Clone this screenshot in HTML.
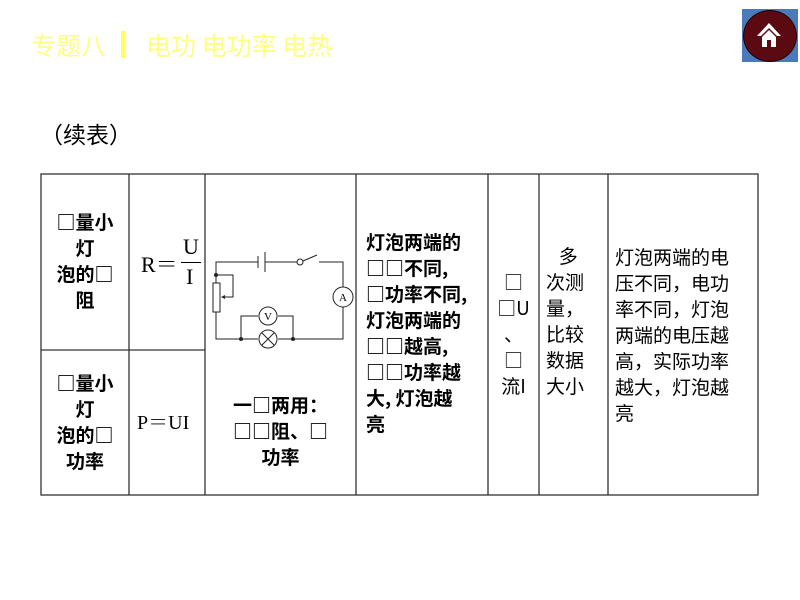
<!DOCTYPE html>
<html><head><meta charset="utf-8"><style>
body{margin:0;width:800px;height:600px;background:#fff;position:relative;overflow:hidden;font-family:"Noto Sans CJK SC","Liberation Sans",sans-serif}
.a{position:absolute;white-space:nowrap}
.b{font-weight:bold;font-size:19px;line-height:26px;color:#000;font-family:"Noto Sans CJK SC",sans-serif}
.n{font-size:19px;line-height:26px;color:#000;font-family:"Liberation Serif","Noto Serif CJK SC",serif}
.c{text-align:center}
</style></head><body>
<div class="a" style="left:31px;top:29px;font-size:25px;color:#ffff80;line-height:32px;font-family:'Noto Sans CJK SC',sans-serif">专题八</div>
<div class="a" style="left:121px;top:31px;width:4px;height:27px;background:#ffff60"></div>
<div class="a" style="left:146px;top:29px;font-size:25px;color:#ffff80;line-height:32px;font-family:'Noto Sans CJK SC',sans-serif">电功 电功率 电热</div>
<div class="a" style="left:742px;top:9px;width:56px;height:53px;background:#4a7ab8"></div>
<div class="a" style="left:743px;top:10px;width:52px;height:50px;border-radius:50%;background:#5a0a10;border:1px solid #200"></div>
<svg class="a" style="left:754px;top:20px" width="30" height="30"><path d="M15 3 L27 16 L23 16 L15 8 L7 16 L3 16Z" fill="#fff"/><path d="M8 17 L15 10 L22 17 L22 27 L8 27Z" fill="#fff"/><rect x="13" y="20" width="4" height="7" fill="#5a0a10"/></svg>
<div class="a" style="left:40px;top:118px;font-size:23px;line-height:30px">（续表）</div>

<svg class="a" style="left:0;top:0" width="800" height="600">
<g stroke="#333" stroke-width="1.3" fill="none">
<rect x="41" y="174" width="717" height="321"/>
<line x1="129" y1="174" x2="129" y2="495"/>
<line x1="205" y1="174" x2="205" y2="495"/>
<line x1="356" y1="174" x2="356" y2="495"/>
<line x1="488" y1="174" x2="488" y2="495"/>
<line x1="539" y1="174" x2="539" y2="495"/>
<line x1="608" y1="174" x2="608" y2="495"/>
<line x1="41" y1="350" x2="205" y2="350"/>
</g>
<g stroke="#222" stroke-width="1" fill="none">
<polyline points="258,262 216,262 216,283"/>
<line x1="258" y1="256" x2="258" y2="268"/>
<line x1="265" y1="252" x2="265" y2="272"/>
<line x1="265" y1="262" x2="297" y2="262"/>
<circle cx="300" cy="262" r="3" fill="#fff"/>
<line x1="303" y1="261" x2="317" y2="255"/>
<polyline points="319,262 343,262 343,287"/>
<polyline points="343,307 343,339 278,339"/>
<polyline points="258,339 216,339 216,312"/>
<rect x="213" y="283" width="7" height="29" fill="#fff"/>
<polyline points="216,275 233,275 233,297 222,297"/>
<circle cx="343" cy="297" r="10"/>
<polyline points="241,339 241,316 258,316"/>
<polyline points="278,316 293,316 293,339"/>
<circle cx="268" cy="316" r="9"/>
<circle cx="268" cy="339" r="9"/>
<line x1="262" y1="333" x2="274" y2="345"/><line x1="274" y1="333" x2="262" y2="345"/>
</g>
<polygon points="221,297 225,295 225,299" fill="#222"/>
<circle cx="216" cy="275" r="2" fill="#222"/><circle cx="241" cy="339" r="2" fill="#222"/><circle cx="293" cy="339" r="2" fill="#222"/>
<text x="343" y="301" font-size="11" text-anchor="middle" font-family="Liberation Serif">A</text>
<text x="268" y="320" font-size="11" text-anchor="middle" font-family="Liberation Serif">V</text>
</svg>
<div class="a" style="left:181px;top:262px;width:20px;height:1px;background:#000"></div>

<div class="a b c" style="left:41px;top:209px;width:88px">□量小<br>灯<br>泡的□<br>阻</div>
<div class="a b c" style="left:41px;top:370px;width:88px">□量小<br>灯<br>泡的□<br>功率</div>
<div class="a n" style="left:141px;top:252px;font-size:22px">R＝</div>
<div class="a n" style="left:183px;top:234px;font-size:22px">U</div>
<div class="a n" style="left:186px;top:264px;font-size:22px">I</div>
<div class="a n" style="left:137px;top:410px;font-size:20px">P＝UI</div>
<div class="a b c" style="left:205px;top:392px;width:151px">一□两用：<br>□□阻、□<br>功率</div>
<div class="a b" style="left:366px;top:229px">灯泡两端的<br>□□不同,<br>□功率不同,<br>灯泡两端的<br>□□越高,<br>□□功率越<br>大, 灯泡越<br>亮</div>
<div class="a b c" style="left:488px;top:269px;width:51px;font-weight:normal">□<br>□U<br>、<br>□<br>流I</div>
<div class="a n" style="left:546px;top:243px;font-family:'Noto Sans CJK SC',sans-serif">&nbsp;&nbsp;&nbsp;多<br>次测<br>量，<br>比较<br>数据<br>大小</div>
<div class="a n" style="left:615px;top:244px;font-family:'Noto Sans CJK SC',sans-serif">灯泡两端的电<br>压不同，电功<br>率不同，灯泡<br>两端的电压越<br>高，实际功率<br>越大，灯泡越<br>亮</div>
</body></html>
